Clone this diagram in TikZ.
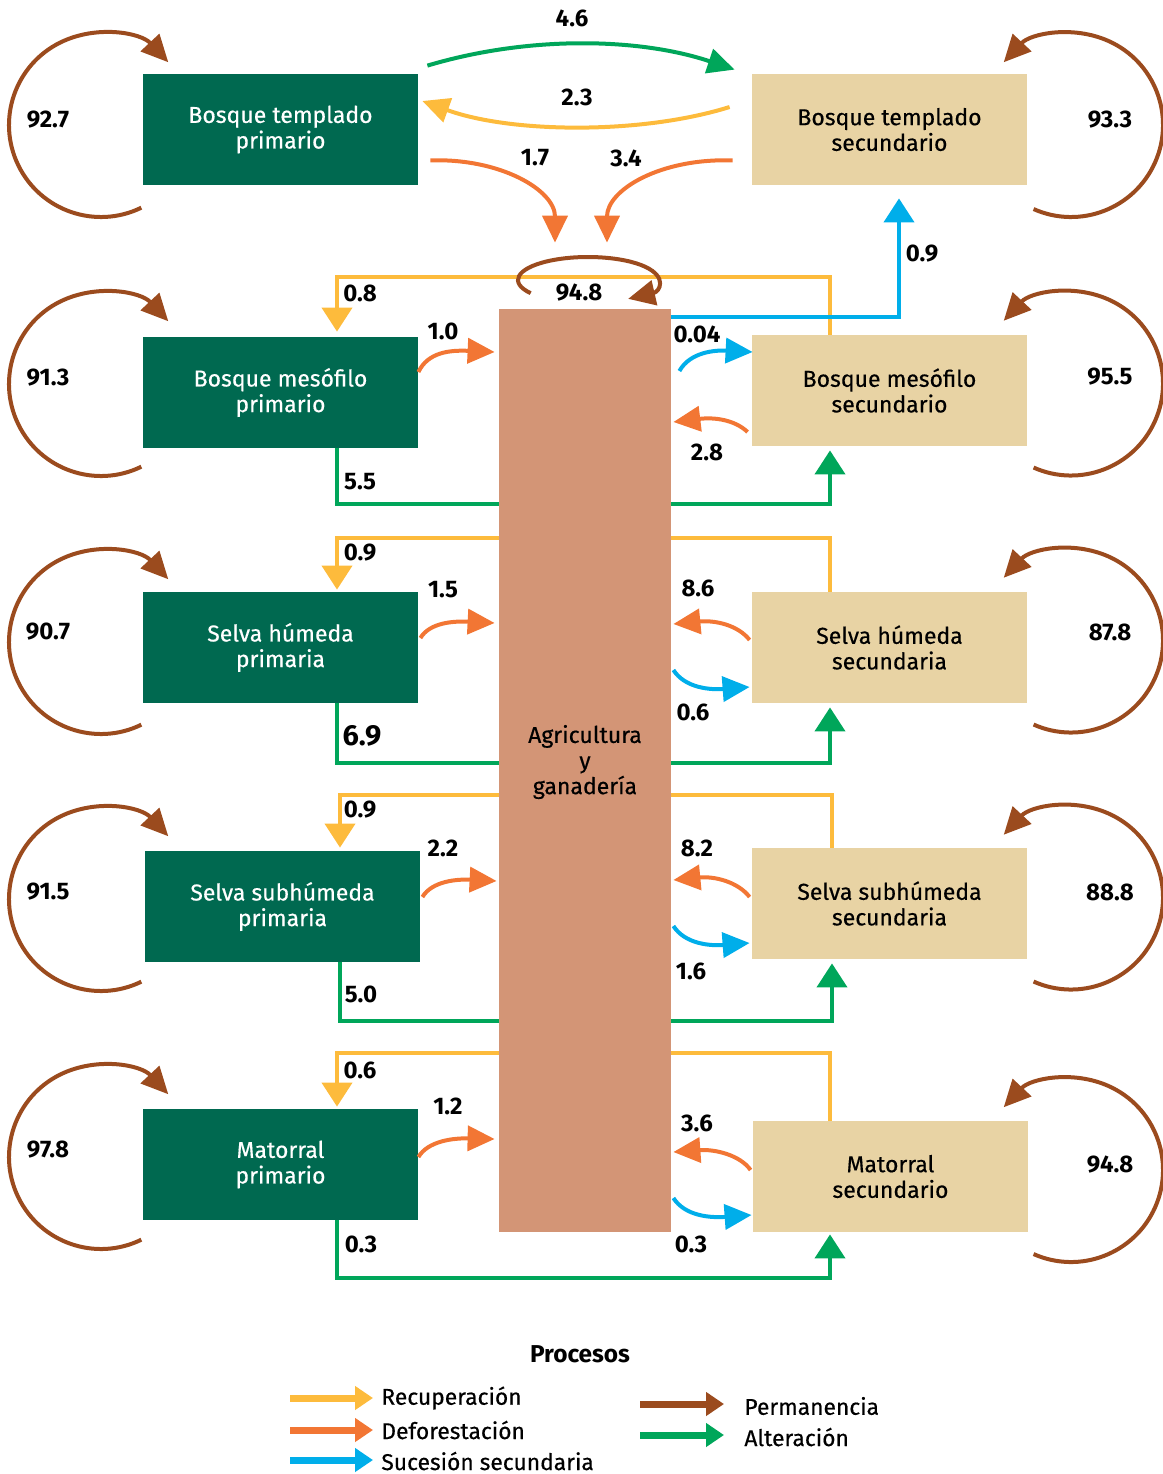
\documentclass[tikz,border=0pt]{standalone}
\usepackage{fontspec}
\setmainfont{Fira Sans}
\newfontfamily\medfont{Fira Sans}[FakeBold=0.4]
\usetikzlibrary{arrows.meta,calc,backgrounds}
\definecolor{dgreen}{RGB}{0,105,80}
\definecolor{boxtan}{RGB}{232,211,164}
\definecolor{agri}{RGB}{211,149,118}
\definecolor{cbrown}{RGB}{155,75,30}
\definecolor{cgreen}{RGB}{0,166,90}
\definecolor{cyellow}{RGB}{253,187,60}
\definecolor{corange}{RGB}{242,118,52}
\definecolor{cblue}{RGB}{0,174,234}
\newcommand\numlab[4]{\node[num] (#1) at (#2,#3) {#4};}
\begin{document}
\begin{tikzpicture}[x=0.5pt,y=0.5pt,
  boxfont/.style={font=\medfont\fontsize{11.5}{12.8}\selectfont},
  prim/.style={boxfont,fill=dgreen,text=white,minimum width=137.5pt,minimum height=55.5pt,inner sep=0pt,align=center},
  sec/.style={boxfont,fill=boxtan,text=black,minimum width=137.5pt,minimum height=55.5pt,inner sep=0pt,align=center},
  flow/.style={line width=2pt,-{Triangle[length=13.5pt,width=12.5pt]}},
  ortho/.style={-{Triangle[length=12pt,width=15pt]}},
  rec/.style={flow,draw=cyellow},
  def/.style={flow,draw=corange},
  suc/.style={flow,draw=cblue},
  perm/.style={flow,draw=cbrown},
  alt/.style={flow,draw=cgreen},
  num/.style={font=\bfseries\fontsize{12}{14}\selectfont,inner sep=1pt},
  bignum/.style={font=\bfseries\fontsize{14.5}{16}\selectfont,inner sep=1pt},
  leg/.style={line width=3.5pt,-{Triangle[length=9pt,width=11.5pt]}},
  legtext/.style={font=\medfont\fontsize{11.4}{13}\selectfont,anchor=west,inner sep=0pt}
]
\useasboundingbox (0,0) rectangle (1163,-1474);

% boxes
\node[prim] (btp) at (280.5,-129.5) {Bosque templado\\primario};
\node[prim] (bmp) at (280.5,-392.5) {Bosque mesófilo\\primario};
\node[prim] (shp) at (280.5,-647.5) {Selva húmeda\\primaria};
\node[prim] (ssp) at (282.5,-906.5) {Selva subhúmeda\\primaria};
\node[prim] (mp)  at (280.5,-1164.5) {Matorral\\primario};
\node[sec] (bts) at (889.5,-129.5) {Bosque templado\\secundario};
\node[sec] (bms) at (889.5,-390.5) {Bosque mesófilo\\secundario};
\node[sec] (shs) at (889.5,-647.5) {Selva húmeda\\secundaria};
\node[sec] (sss) at (889.5,-903.5) {Selva subhúmeda\\secundaria};
\node[sec] (ms)  at (890.5,-1176.5) {Matorral\\secundario};
\node[fill=agri,minimum width=86pt,minimum height=461.5pt,inner sep=0pt] (ag) at (585,-770.5) {};
\node[boxfont,align=center,inner sep=0pt] (agt) at (585,-762) {Agricultura\\y\\ganadería};

% recovery and alteration lines, behind the central box
\begin{scope}[on background layer]
\draw[rec,ortho] ($(bms.north)+(-59.5,0)$) -- ++(0,58) -| ($(bmp.north)+(56.5,5)$);
\draw[rec,ortho] ($(shs.north)+(-59.5,0)$) -- ++(0,54) -| ($(shp.north)+(56.5,2)$);
\draw[rec,ortho] ($(sss.north)+(-57.5,0)$) -- ++(0,53) -| ($(ssp.north)+(57.5,3)$);
\draw[rec,ortho] ($(ms.north)+(-60.5,0)$) -- ++(0,68) -| ($(mp.north)+(56.5,2)$);
\draw[alt,ortho] ($(bmp.south)+(56.5,0)$) -- ++(0,-56) -| ($(bms.south)+(-59.5,-4)$);
\draw[alt,ortho] ($(shp.south)+(56.5,0)$) -- ++(0,-60) -| ($(shs.south)+(-59.5,-4)$);
\draw[alt,ortho] ($(ssp.south)+(57.5,0)$) -- ++(0,-59) -| ($(sss.south)+(-57.5,-4)$);
\draw[alt,ortho] ($(mp.south)+(56.5,0)$) -- ++(0,-58) -| ($(ms.south)+(-60.5,-2)$);
\end{scope}

% top row
\draw[alt] ($(btp.north east)+(9,8)$) .. controls (530,-35) and (640,-38) .. ($(bts.north west)+(-17,4)$);
\draw[rec] ($(bts.west)+(-22,22.5)$) .. controls (640,-135) and (510,-133) .. ($(btp.east)+(4,28.5)$);
\draw[def] ($(btp.south east)+(12,25)$) .. controls (500,-158) and (555,-190) .. ($(ag.north)+(-30,66)$);
\draw[def] ($(bts.south west)+(-19,25)$) .. controls (660,-158) and (607,-190) .. ($(ag.north)+(22,66)$);
\draw[suc,ortho] ($(ag.north east)+(0,-8)$) -| ($(bts.south)+(9.5,-13)$);

% central loop
\draw[perm] (588,-280) ++(215:35pt and 11.5pt) arc[start angle=215,end angle=-55,x radius=35pt,y radius=11.5pt];

% row mesofilo
\draw[def] ($(bmp.east)+(0,20.5)$) .. controls (428,-352) and (450,-350) .. ($(ag.west)+(-4,418.5)$);
\draw[suc] ($(ag.east)+(8,399.5)$) .. controls (690,-352) and (715,-350) .. ($(bms.west)+(1,38.5)$);
\draw[def] ($(bms.west)+(-4,-41.5)$) .. controls (735,-420) and (715,-417) .. ($(ag.east)+(2,348.5)$);
% row selva humeda
\draw[def] ($(shp.east)+(2,9.5)$) .. controls (430,-622) and (455,-621) .. ($(ag.west)+(-4,147.5)$);
\draw[def] ($(shs.west)+(-2,7.5)$) .. controls (738,-625) and (715,-620) .. ($(ag.east)+(2,146.5)$);
\draw[suc] ($(ag.east)+(2,100.5)$) .. controls (685,-688) and (710,-690) .. ($(shs.west)+(-2,-39.5)$);
% row selva subhumeda
\draw[def] ($(ssp.east)+(2,9.5)$) .. controls (432,-881) and (457,-879) .. ($(ag.west)+(-2,-110.5)$);
\draw[def] ($(sss.west)+(-2,6.5)$) .. controls (738,-882) and (715,-876) .. ($(ag.east)+(2,-109.5)$);
\draw[suc] ($(ag.east)+(2,-155.5)$) .. controls (685,-944) and (710,-946) .. ($(sss.west)+(-2,-39.5)$);
% row matorral
\draw[def] ($(mp.east)+(0,7.5)$) .. controls (428,-1141) and (453,-1138) .. ($(ag.west)+(-4,-368.5)$);
\draw[def] ($(ms.west)+(-2,6.5)$) .. controls (740,-1155) and (715,-1149) .. ($(ag.east)+(2,-381.5)$);
\draw[suc] ($(ag.east)+(2,-427.5)$) .. controls (685,-1216) and (710,-1218) .. ($(ms.west)+(-1,-38.5)$);

% permanence loops, left
\foreach \yc in {-125,-384,-642,-899,-1157}{
  \draw[perm] (101,\yc) ++(-64:46pt) arc[start angle=-64,end angle=-317,radius=46pt];
}
% permanence loops, right
\foreach \yc in {-125,-383.5,-640.5,-897.5,-1170}{
  \draw[perm] (1071,\yc) ++(-114:46pt) arc[start angle=-114,end angle=137,radius=46pt];
}

% labels
\numlab{n1}{572}{-18}{4.6}
\numlab{n2}{577}{-97}{2.3}
\numlab{n3}{535}{-158}{1.7}
\numlab{n4}{626}{-158}{3.4}
\numlab{n5}{922}{-254}{0.9}
\numlab{n6}{579}{-293}{94.8}
\numlab{n7}{360}{-293}{0.8}
\numlab{n8}{443}{-331}{1.0}
\numlab{n9}{697}{-334}{0.04}
\numlab{n10}{360}{-482}{5.5}
\numlab{n11}{707}{-452}{2.8}
\numlab{n12}{360}{-553}{0.9}
\numlab{n13}{443}{-590}{1.5}
\numlab{n14}{698}{-588}{8.6}
\numlab{n15}{693}{-712}{0.6}
\node[bignum] (n16) at (362,-736) {6.9};
\numlab{n17}{360}{-810}{0.9}
\numlab{n18}{443}{-848}{2.2}
\numlab{n19}{697}{-848}{8.2}
\numlab{n20}{691}{-971}{1.6}
\numlab{n21}{361}{-994}{5.0}
\numlab{n22}{360}{-1070}{0.6}
\numlab{n23}{448}{-1106}{1.2}
\numlab{n24}{697}{-1123}{3.6}
\numlab{n25}{691}{-1244}{0.3}
\numlab{n26}{361}{-1244}{0.3}
\numlab{p1}{48}{-120}{92.7}
\numlab{p2}{48}{-378}{91.3}
\numlab{p3}{48}{-632}{90.7}
\numlab{p4}{48}{-892}{91.5}
\numlab{p5}{48}{-1150}{97.8}
\numlab{p6}{1110}{-120}{93.3}
\numlab{p7}{1110}{-377}{95.5}
\numlab{p8}{1110}{-632}{87.8}
\numlab{p9}{1110}{-892}{88.8}
\numlab{p10}{1110}{-1165}{94.8}

% legend
\node[font=\bfseries\fontsize{12.2}{14}\selectfont] (proc) at (580,-1354) {Procesos};
\coordinate (la1) at (290,-1398); \coordinate (la2) at (373,-1398);
\coordinate (lb1) at (290,-1430); \coordinate (lb2) at (373,-1430);
\coordinate (lc1) at (290,-1460); \coordinate (lc2) at (373,-1460);
\coordinate (ld1) at (640,-1404); \coordinate (ld2) at (724,-1404);
\coordinate (le1) at (640,-1435); \coordinate (le2) at (724,-1435);
\draw[leg,cyellow] (la1) -- (la2);
\draw[leg,corange] (lb1) -- (lb2);
\draw[leg,cblue] (lc1) -- (lc2);
\draw[leg,cbrown] (ld1) -- (ld2);
\draw[leg,cgreen] (le1) -- (le2);
\node[legtext] (ta) at (381,-1398) {Recuperación};
\node[legtext] (tb) at (381,-1430) {Deforestación};
\node[legtext] (tc) at (381,-1461) {Sucesión secundaria};
\node[legtext] (td) at (744,-1406) {Permanencia};
\node[legtext] (te) at (744,-1437) {Alteración};
\end{tikzpicture}
\end{document}
